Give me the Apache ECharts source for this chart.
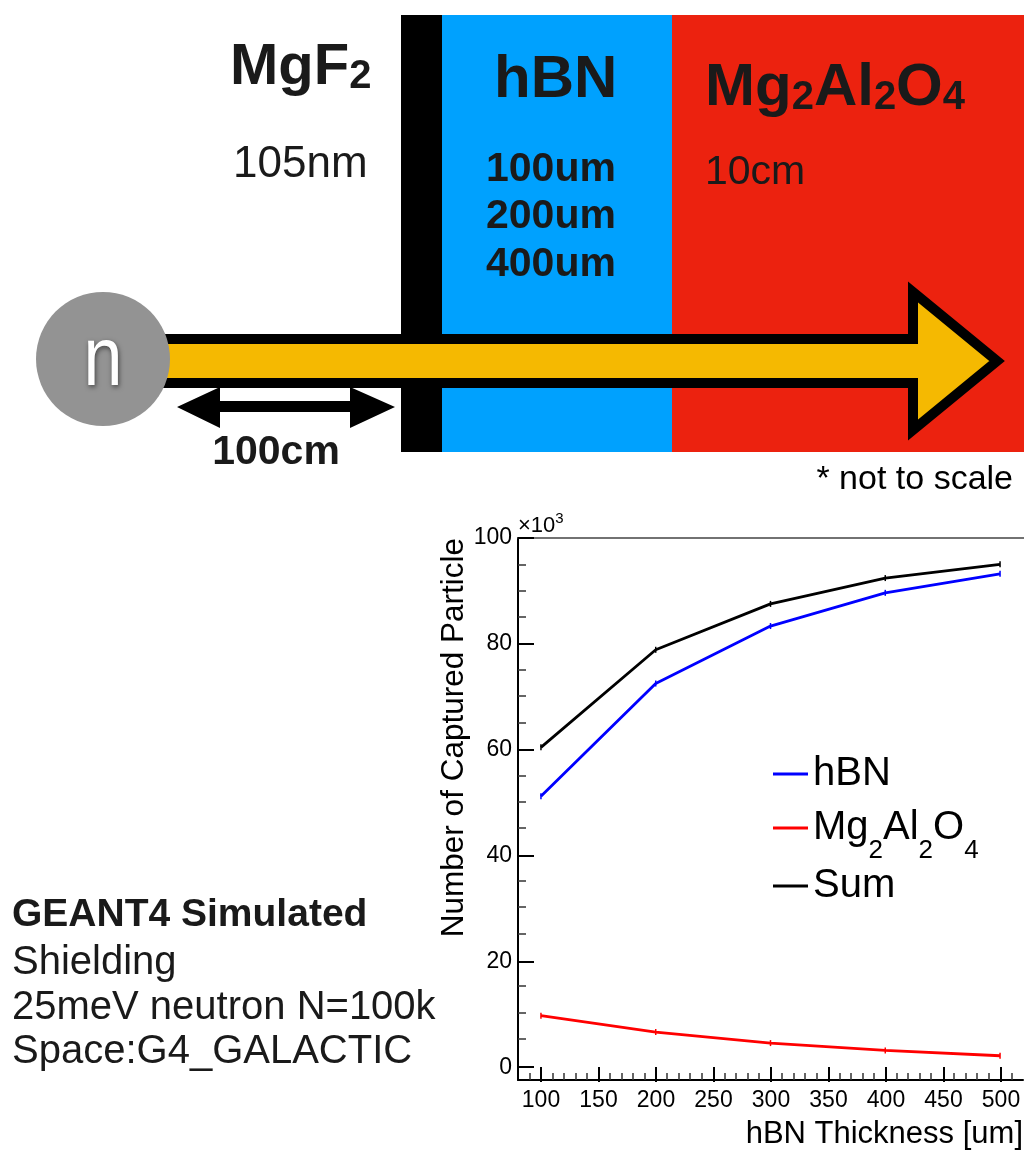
<!DOCTYPE html>
<html>
<head>
<meta charset="utf-8">
<script src="https://cdn.jsdelivr.net/npm/echarts@6/dist/echarts.min.js"></script>
<style>
  html, body { margin: 0; padding: 0; background: #ffffff; }
  #chart { width: 1024px; height: 1150px; }
</style>
</head>
<body>
<div id="chart"></div>
<script>
// ---- data (counts in units of 10^3) ----
const thickness = [100, 200, 300, 400, 500];            // hBN thickness [um]
const hbnCaptured = [51.0, 72.4, 83.3, 89.6, 93.2];
const spinelCaptured = [9.4, 6.3, 4.2, 2.8, 1.8];       // Mg2Al2O4
const sumCaptured = [60.3, 78.8, 87.5, 92.4, 95.0];
const seriesNames = ['hBN', 'Mg2Al2O4', 'Sum'];

// ---- tick values ----
const xMajorTicks = [100, 150, 200, 250, 300, 350, 400, 450, 500];
const xMinorTicks = [90, 110, 120, 130, 140, 160, 170, 180, 190, 210, 220, 230, 240,
  260, 270, 280, 290, 310, 320, 330, 340, 360, 370, 380, 390, 410, 420, 430, 440,
  460, 470, 480, 490, 510];
const yMajorTicks = [0, 20, 40, 60, 80, 100];
const yMinorTicks = [5, 10, 15, 25, 30, 35, 45, 50, 55, 65, 70, 75, 85, 90, 95];

const FONT = "'Liberation Sans', Arial, Helvetica, sans-serif";
const X_MIN = 80, X_MAX = 520, Y_MIN = -2.8, Y_MAX = 100;

const chart = echarts.init(document.getElementById('chart'), null, { renderer: 'canvas' });

const pairs = (ys) => thickness.map((x, i) => [x, ys[i]]);
const lineSeries = (name, ys, color) => ({
  name, type: 'line', xAxisIndex: 0, yAxisIndex: 0,
  data: pairs(ys),
  symbol: 'rect', symbolSize: [1.5, 6], showSymbol: true,
  lineStyle: { color, width: 2.8 },
  itemStyle: { color },
  z: 5, animation: false
});

const legendText = {
  fontFamily: FONT, fontSize: 40, color: '#000', lineHeight: 48,
  rich: {
    n: { fontSize: 40, lineHeight: 48, verticalAlign: 'middle', fontFamily: FONT, color: '#000' },
    s: { fontSize: 26, lineHeight: 48, height: 2, verticalAlign: 'bottom', fontFamily: FONT, color: '#000' }
  }
};
const legendFor = (name, top) => ({
  orient: 'vertical', left: 768, top,
  itemWidth: 35, itemHeight: 3, icon: 'rect',
  data: [name],
  formatter: (n) => n === 'Mg2Al2O4'
    ? '{n|Mg}{s|2}{n|Al}{s|2}{n|O}{s|4}'
    : '{n|' + n + '}',
  textStyle: legendText
});

const gridBox = { left: 518, top: 538, width: 519, height: 544 };

const option = {
  animation: false,
  backgroundColor: '#ffffff',
  textStyle: { fontFamily: FONT },
  grid: [Object.assign({}, gridBox), Object.assign({}, gridBox)],
  xAxis: [
    { // bottom axis line + minor ticks + title
      gridIndex: 0, type: 'value', min: X_MIN, max: X_MAX, position: 'bottom',
      axisLine: { show: true, onZero: false, lineStyle: { color: '#000', width: 2 } },
      axisTick: { show: true, inside: true, length: 7, customValues: xMinorTicks,
                  lineStyle: { color: '#333', width: 1.5 } },
      axisLabel: { show: false },
      splitLine: { show: false },
      name: 'hBN Thickness [um]', nameLocation: 'end', nameGap: 0,
      nameTextStyle: { fontFamily: FONT, fontSize: 31, color: '#000', align: 'right',
                       verticalAlign: 'top', padding: [39, 0, 0, 0] }
    },
    { // major ticks + labels
      gridIndex: 1, type: 'value', min: X_MIN, max: X_MAX, position: 'bottom',
      axisLine: { show: false, onZero: false },
      axisTick: { show: true, inside: true, length: 15, customValues: xMajorTicks,
                  lineStyle: { color: '#000', width: 2 } },
      axisLabel: { show: true, customValues: xMajorTicks, fontFamily: FONT, fontSize: 23,
                   color: '#000', margin: 7 },
      splitLine: { show: false }
    },
    { // top frame line
      gridIndex: 1, type: 'value', min: X_MIN, max: X_MAX, position: 'top',
      axisLine: { show: true, onZero: false, lineStyle: { color: '#444', width: 1.5 } },
      axisTick: { show: false }, axisLabel: { show: false }, splitLine: { show: false }
    }
  ],
  yAxis: [
    { // left axis line + minor ticks + title
      gridIndex: 0, type: 'value', min: Y_MIN, max: Y_MAX, position: 'left',
      axisLine: { show: true, onZero: false, lineStyle: { color: '#000', width: 2 } },
      axisTick: { show: true, inside: true, length: 8, customValues: yMinorTicks,
                  lineStyle: { color: '#333', width: 1.5 } },
      axisLabel: { show: false },
      splitLine: { show: false },
      name: 'Number of Captured Particle', nameLocation: 'end', nameGap: 0, nameRotate: 90,
      nameTextStyle: { fontFamily: FONT, fontSize: 31.5, color: '#000', align: 'right',
                       verticalAlign: 'bottom', padding: [0, 0, 48, 0] }
    },
    { // major ticks + labels + x10^3
      gridIndex: 1, type: 'value', min: Y_MIN, max: Y_MAX, position: 'left',
      axisLine: { show: false, onZero: false },
      axisTick: { show: true, inside: true, length: 16, customValues: yMajorTicks,
                  lineStyle: { color: '#000', width: 2 } },
      axisLabel: { show: true, customValues: yMajorTicks, fontFamily: FONT, fontSize: 23,
                   color: '#000', margin: 6 },
      splitLine: { show: false },
      name: '{n|×10}{s|3}', nameLocation: 'end', nameGap: 0,
      nameTextStyle: {
        align: 'left', verticalAlign: 'bottom', color: '#000', fontFamily: FONT,
        rich: {
          n: { fontSize: 22, lineHeight: 24, verticalAlign: 'middle', fontFamily: FONT, color: '#000' },
          s: { fontSize: 15, lineHeight: 24, height: 10, verticalAlign: 'top', fontFamily: FONT, color: '#000' }
        }
      }
    }
  ],
  legend: [
    legendFor(seriesNames[0], 745),
    legendFor(seriesNames[1], 799),
    legendFor(seriesNames[2], 857)
  ],
  series: [
    lineSeries(seriesNames[0], hbnCaptured, '#0000ff'),
    lineSeries(seriesNames[1], spinelCaptured, '#ff0000'),
    lineSeries(seriesNames[2], sumCaptured, '#000000')
  ],
  graphic: [
    // layers
    { type: 'rect', shape: { x: 401, y: 15, width: 41, height: 437 }, style: { fill: '#000000' }, z: 1 },
    { type: 'rect', shape: { x: 442, y: 15, width: 230, height: 437 }, style: { fill: '#00a1fe' }, z: 1 },
    { type: 'rect', shape: { x: 672, y: 15, width: 360, height: 437 }, style: { fill: '#ec220f' }, z: 1 },
    // neutron beam arrow
    { type: 'polygon', z: 2,
      shape: { points: [[150, 339], [913, 339], [913, 292], [997, 361], [913, 430], [913, 383], [150, 383]] },
      style: { fill: '#f5b901', stroke: '#000000', lineWidth: 10, lineJoin: 'miter', miterLimit: 10 } },
    // neutron
    { type: 'circle', z: 3, shape: { cx: 103, cy: 359, r: 67 }, style: { fill: '#939393' } },
    { type: 'text', z: 4, x: 103, y: 362, scaleY: 1.2,
      style: { text: 'n', x: 0, y: 0, align: 'center', verticalAlign: 'middle',
               font: '70px ' + FONT, fill: '#ffffff',
               textShadowBlur: 5, textShadowColor: 'rgba(0,0,0,0.55)', textShadowOffsetX: 1, textShadowOffsetY: 2 } },
    // 100cm double arrow
    { type: 'polygon', z: 2,
      shape: { points: [[177, 407], [220, 387], [220, 401], [350, 401], [350, 387], [395, 407],
                        [350, 428], [350, 412], [220, 412], [220, 428]] },
      style: { fill: '#000000' } },
    { type: 'text', z: 4, style: { text: '100cm', x: 276, y: 453, align: 'center', verticalAlign: 'middle',
      font: 'bold 41px ' + FONT, fill: '#1a1a1a' } },
    // labels
    { type: 'text', z: 4, style: { text: '{b|MgF}{s|2}', x: 230, y: 68, align: 'left', verticalAlign: 'middle',
      rich: { b: { font: 'bold 58px ' + FONT, fill: '#1a1a1a', lineHeight: 60, verticalAlign: 'middle' },
              s: { font: 'bold 40px ' + FONT, fill: '#1a1a1a', lineHeight: 60, height: 78, verticalAlign: 'top' } } } },
    { type: 'text', z: 4, style: { text: '105nm', x: 233, y: 165, align: 'left', verticalAlign: 'middle',
      font: '44px ' + FONT, fill: '#1a1a1a' } },
    { type: 'text', z: 4, style: { text: 'hBN', x: 494, y: 80, align: 'left', verticalAlign: 'middle',
      font: 'bold 60px ' + FONT, fill: '#1a1a1a' } },
    { type: 'text', z: 4, style: { text: '100um\n200um\n400um', x: 486, y: 217, align: 'left', verticalAlign: 'middle',
      font: 'bold 41px ' + FONT, lineHeight: 47.5, fill: '#1a1a1a' } },
    { type: 'text', z: 4, style: { text: '{b|Mg}{s|2}{b|Al}{s|2}{b|O}{s|4}', x: 705, y: 88, align: 'left', verticalAlign: 'middle',
      rich: { b: { font: 'bold 60px ' + FONT, fill: '#1a1a1a', lineHeight: 62, verticalAlign: 'middle' },
              s: { font: 'bold 40px ' + FONT, fill: '#1a1a1a', lineHeight: 62, height: 81, verticalAlign: 'top' } } } },
    { type: 'text', z: 4, style: { text: '10cm', x: 705, y: 173, align: 'left', verticalAlign: 'middle',
      font: '41px ' + FONT, fill: '#1a1a1a' } },
    { type: 'text', z: 4, style: { text: '* not to scale', x: 1013, y: 480, align: 'right', verticalAlign: 'middle',
      font: '34px ' + FONT, fill: '#000000' } },
    // simulation notes
    { type: 'text', z: 4, style: { text: 'GEANT4 Simulated', x: 12, y: 915, align: 'left', verticalAlign: 'middle',
      font: 'bold 39px ' + FONT, fill: '#1a1a1a' } },
    { type: 'text', z: 4, style: { text: 'Shielding', x: 12, y: 963, align: 'left', verticalAlign: 'middle',
      font: '40px ' + FONT, fill: '#1a1a1a' } },
    { type: 'text', z: 4, style: { text: '25meV neutron N=100k', x: 12, y: 1008, align: 'left', verticalAlign: 'middle',
      font: '40px ' + FONT, fill: '#1a1a1a' } },
    { type: 'text', z: 4, style: { text: 'Space:G4_GALACTIC', x: 12, y: 1052, align: 'left', verticalAlign: 'middle',
      font: '40px ' + FONT, fill: '#1a1a1a' } }
  ]
};

chart.setOption(option);
</script>
</body>
</html>
